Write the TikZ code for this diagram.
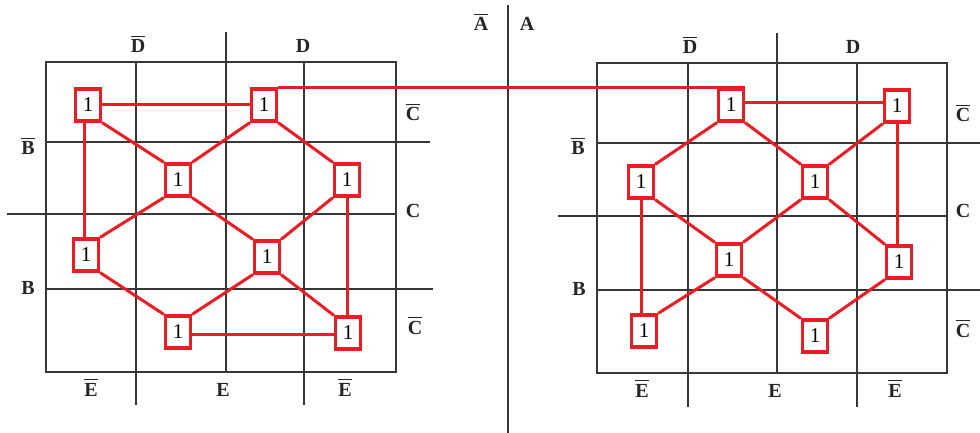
\documentclass[tikz,border=0pt]{standalone}
\usepackage{fontspec}
\setmainfont{Liberation Serif}
\definecolor{kred}{RGB}{236,28,36}
\definecolor{kgrid}{RGB}{55,55,55}
\newcommand{\ovl}[1]{\leavevmode\vbox{\hrule height 1.3pt\kern 2.6pt\hbox{#1}}}
\begin{document}
\begin{tikzpicture}[x=1pt,y=-1pt,
  gridline/.style={draw=kgrid,line width=1.3pt},
  one/.style={draw=kred,line width=3.2pt,fill=white,minimum width=25pt,minimum height=32pt,inner sep=0pt,font=\fontsize{21}{21}\selectfont},
  link/.style={draw=kred,line width=3pt},
  lab/.style={anchor=base,inner sep=0pt,text=black!85,font=\bfseries\fontsize{20}{20}\selectfont}]
\useasboundingbox (0,0) rectangle (980,433);
% centre divider
\draw[gridline] (508,5) -- (508,433);
\node[lab] (Abar) at (481,31) {\ovl{A}};
\node[lab] (A) at (527,31) {A};
% ---------- left map grid ----------
\draw[gridline] (46,62) rectangle (396,372);
\draw[gridline] (136,62) -- (136,405);
\draw[gridline] (226,32) -- (226,372);
\draw[gridline] (304,62) -- (304,405);
\draw[gridline] (46,142) -- (430,142);
\draw[gridline] (7,214) -- (396,214);
\draw[gridline] (46,289) -- (433,289);
% left labels
\node[lab] (lD1) at (138,53) {\ovl{D}};
\node[lab] (lD2) at (303,53) {D};
\node[lab] (lC1) at (413,121) {\ovl{C}};
\node[lab] (lB1) at (28,155) {\ovl{B}};
\node[lab] (lC2) at (413,217) {C};
\node[lab] (lB2) at (28,294) {B};
\node[lab] (lC3) at (415,334) {\ovl{C}};
\node[lab] (lE1) at (91,396) {\ovl{E}};
\node[lab] (lE2) at (223,396) {E};
\node[lab] (lE3) at (345,396) {\ovl{E}};
% ---------- right map grid ----------
\draw[gridline] (597,63) rectangle (947,373);
\draw[gridline] (688,63) -- (688,407);
\draw[gridline] (777,33) -- (777,373);
\draw[gridline] (857,63) -- (857,407);
\draw[gridline] (597,143) -- (980,143);
\draw[gridline] (558,216) -- (947,216);
\draw[gridline] (597,290) -- (980,290);
% right labels
\node[lab] (rD1) at (690,54) {\ovl{D}};
\node[lab] (rD2) at (853,54) {D};
\node[lab] (rC1) at (963,122) {\ovl{C}};
\node[lab] (rB1) at (578,155) {\ovl{B}};
\node[lab] (rC2) at (963,217) {C};
\node[lab] (rB2) at (579,295) {B};
\node[lab] (rC3) at (963,337) {\ovl{C}};
\node[lab] (rE1) at (642,397) {\ovl{E}};
\node[lab] (rE2) at (775,397) {E};
\node[lab] (rE3) at (895,397) {\ovl{E}};
% ---------- left ones ----------
\node[one] (L1) at (88,105) {1};
\node[one] (L2) at (264,105) {1};
\node[one] (L3) at (178,180) {1};
\node[one] (L4) at (347,180) {1};
\node[one] (L5) at (86,255) {1};
\node[one] (L6) at (267,257) {1};
\node[one] (L7) at (178,332) {1};
\node[one] (L8) at (348,333) {1};
% ---------- right ones ----------
\node[one] (R1) at (731,105) {1};
\node[one] (R2) at (897,106) {1};
\node[one] (R3) at (641,182) {1};
\node[one] (R4) at (815,182) {1};
\node[one] (R5) at (729,260) {1};
\node[one] (R6) at (899,262) {1};
\node[one] (R7) at (644,331) {1};
\node[one] (R8) at (815,336) {1};
% ---------- left links ----------
\draw[link] (L1) -- (L1 -| L2.west);
\draw[link] (L1.south east) -- (L3.north west);
\draw[link] (L2.south west) -- (L3.north east);
\draw[link] (L2.south east) -- (L4.north west);
\draw[link] (L3.south west) -- (L5.north east);
\draw[link] (L3.south east) -- (L6.north west);
\draw[link] (L4.south west) -- (L6.north east);
\draw[link] ([xshift=-4pt]L1.south) -- ([xshift=-4pt]L1.south |- L5.north);
\draw[link] (L4.south) -- (L4.south |- L8.north);
\draw[link] (L5.south east) -- (L7.north west);
\draw[link] (L6.south west) -- (L7.north east);
\draw[link] (L6.south east) -- (L8.north west);
\draw[link] ([yshift=-2pt]L7.east) -- ([yshift=-2pt]L7.east -| L8.west);
% ---------- bridge ----------
\draw[link] (L2.north east) -- (R1.north east);
% ---------- right links ----------
\draw[link] ([yshift=2pt]R1.east) -- ([yshift=2pt]R1.east -| R2.west);
\draw[link] (R1.south west) -- (R3.north east);
\draw[link] (R1.south east) -- (R4.north west);
\draw[link] (R2.south west) -- (R4.north east);
\draw[link] (R2.south) -- (R2.south |- R6.north);
\draw[link] (R3.south) -- (R3.south |- R7.north);
\draw[link] (R3.south east) -- (R5.north west);
\draw[link] (R4.south west) -- (R5.north east);
\draw[link] (R4.south east) -- (R6.north west);
\draw[link] (R5.south west) -- (R7.north east);
\draw[link] (R5.south east) -- (R8.north west);
\draw[link] (R6.south west) -- (R8.north east);
\end{tikzpicture}
\end{document}
